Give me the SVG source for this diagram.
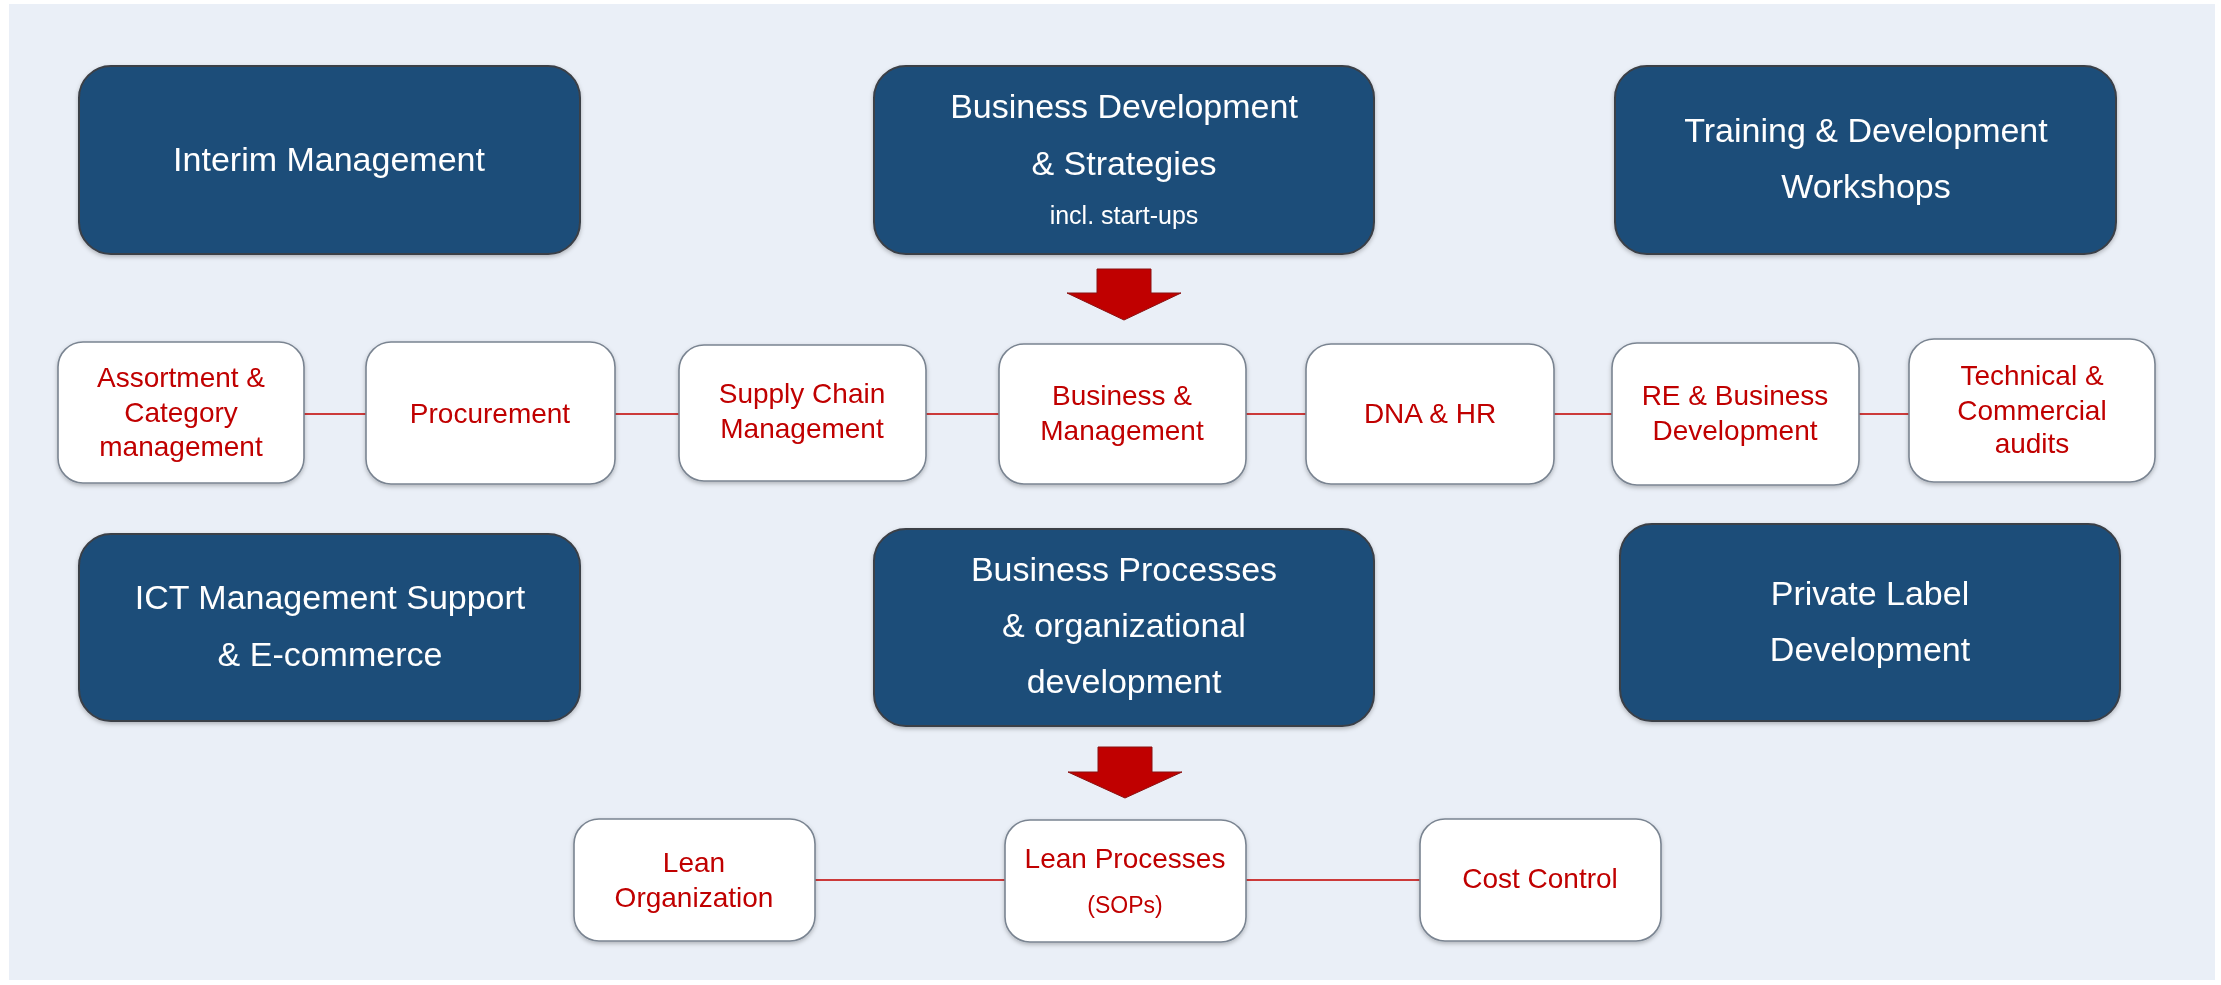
<svg xmlns="http://www.w3.org/2000/svg" width="2221" height="985" viewBox="0 0 2221 985">
<style>
.bg{fill:#EAEFF7}
.navy{fill:#1F4E79;stroke:#3A3F47;stroke-width:2}
.wbox{fill:#FFFFFF;stroke:#7A8491;stroke-width:1.6}
.tw{font-family:"Liberation Sans",Arial,sans-serif;font-size:34px;fill:#FFFFFF;text-anchor:middle}
.tws{font-size:25px}
.tr{font-family:"Liberation Sans",Arial,sans-serif;font-size:28px;fill:#C00000;text-anchor:middle}
.trs{font-size:23px}
.conn{stroke:#CC3A3A;stroke-width:2;fill:none}
.arrow{fill:#C00000;stroke:#8A1010;stroke-width:1}
</style>
<defs>
<filter id="sh" x="-5%" y="-5%" width="110%" height="115%">
<feDropShadow dx="0" dy="2" stdDeviation="2" flood-color="#000" flood-opacity="0.25"/>
</filter>
</defs>
<rect x="0" y="0" width="2221" height="985" fill="#FFFFFF"/>
<rect class="bg" x="9" y="4" width="2206" height="976"/>

<g id="connectors">
<line class="conn" x1="304" y1="414" x2="366" y2="414"/>
<line class="conn" x1="615" y1="414" x2="679" y2="414"/>
<line class="conn" x1="926" y1="414" x2="999" y2="414"/>
<line class="conn" x1="1246" y1="414" x2="1306" y2="414"/>
<line class="conn" x1="1554" y1="414" x2="1612" y2="414"/>
<line class="conn" x1="1859" y1="414" x2="1909" y2="414"/>
<line class="conn" x1="815" y1="880" x2="1005" y2="880"/>
<line class="conn" x1="1246" y1="880" x2="1420" y2="880"/>
<polygon id="arrow1" class="arrow" points="1097,269 1151,269 1151,293 1181,293 1124,320 1067,293 1097,293"/>
<polygon id="arrow2" class="arrow" points="1098,747 1152,747 1152,772 1182,772 1125,798 1068,772 1098,772"/>
</g>

<g id="interim" filter="url(#sh)">
<rect class="navy" x="79" y="66" width="501" height="188" rx="32"/>
<text class="tw" x="329" y="171">Interim Management</text>
</g>
<g id="bizdev" filter="url(#sh)">
<rect class="navy" x="874" y="66" width="500" height="188" rx="32"/>
<text class="tw" x="1124" y="118">Business Development</text>
<text class="tw" x="1124" y="175">&amp; Strategies</text>
<text class="tw tws" x="1124" y="224">incl. start-ups</text>
</g>
<g id="training" filter="url(#sh)">
<rect class="navy" x="1615" y="66" width="501" height="188" rx="32"/>
<text class="tw" x="1866" y="142">Training &amp; Development</text>
<text class="tw" x="1866" y="198">Workshops</text>
</g>

<g id="assortment" filter="url(#sh)">
<rect class="wbox" x="58" y="342" width="246" height="141" rx="25"/>
<text class="tr" x="181" y="387">Assortment &amp;</text>
<text class="tr" x="181" y="422">Category</text>
<text class="tr" x="181" y="456">management</text>
</g>
<g id="procurement" filter="url(#sh)">
<rect class="wbox" x="366" y="342" width="249" height="142" rx="25"/>
<text class="tr" x="490" y="423">Procurement</text>
</g>
<g id="supplychain" filter="url(#sh)">
<rect class="wbox" x="679" y="345" width="247" height="136" rx="25"/>
<text class="tr" x="802" y="403">Supply Chain</text>
<text class="tr" x="802" y="438">Management</text>
</g>
<g id="bizmgmt" filter="url(#sh)">
<rect class="wbox" x="999" y="344" width="247" height="140" rx="25"/>
<text class="tr" x="1122" y="405">Business &amp;</text>
<text class="tr" x="1122" y="440">Management</text>
</g>
<g id="dnahr" filter="url(#sh)">
<rect class="wbox" x="1306" y="344" width="248" height="140" rx="25"/>
<text class="tr" x="1430" y="423">DNA &amp; HR</text>
</g>
<g id="rebizdev" filter="url(#sh)">
<rect class="wbox" x="1612" y="343" width="247" height="142" rx="25"/>
<text class="tr" x="1735" y="405">RE &amp; Business</text>
<text class="tr" x="1735" y="440">Development</text>
</g>
<g id="audits" filter="url(#sh)">
<rect class="wbox" x="1909" y="339" width="246" height="143" rx="25"/>
<text class="tr" x="2032" y="385">Technical &amp;</text>
<text class="tr" x="2032" y="420">Commercial</text>
<text class="tr" x="2032" y="453">audits</text>
</g>

<g id="ict" filter="url(#sh)">
<rect class="navy" x="79" y="534" width="501" height="187" rx="32"/>
<text class="tw" x="330" y="609">ICT Management Support</text>
<text class="tw" x="330" y="666">&amp; E-commerce</text>
</g>
<g id="bizproc" filter="url(#sh)">
<rect class="navy" x="874" y="529" width="500" height="197" rx="32"/>
<text class="tw" x="1124" y="581">Business Processes</text>
<text class="tw" x="1124" y="637">&amp; organizational</text>
<text class="tw" x="1124" y="693">development</text>
</g>
<g id="privatelabel" filter="url(#sh)">
<rect class="navy" x="1620" y="524" width="500" height="197" rx="32"/>
<text class="tw" x="1870" y="605">Private Label</text>
<text class="tw" x="1870" y="661">Development</text>
</g>

<g id="leanorg" filter="url(#sh)">
<rect class="wbox" x="574" y="819" width="241" height="122" rx="25"/>
<text class="tr" x="694" y="872">Lean</text>
<text class="tr" x="694" y="907">Organization</text>
</g>
<g id="leanproc" filter="url(#sh)">
<rect class="wbox" x="1005" y="820" width="241" height="122" rx="25"/>
<text class="tr" x="1125" y="868">Lean Processes</text>
<text class="tr trs" x="1125" y="913">(SOPs)</text>
</g>
<g id="costcontrol" filter="url(#sh)">
<rect class="wbox" x="1420" y="819" width="241" height="122" rx="25"/>
<text class="tr" x="1540" y="888">Cost Control</text>
</g>
</svg>
